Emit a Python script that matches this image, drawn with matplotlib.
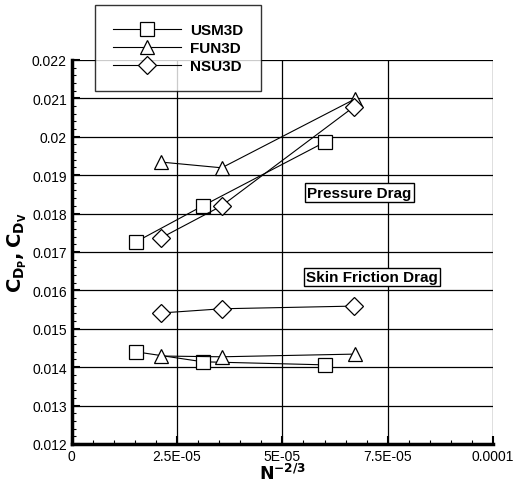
import numpy as np
import matplotlib.pyplot as plt
from matplotlib.ticker import MultipleLocator

plt.rcParams['font.family'] = ['Liberation Sans', 'DejaVu Sans']

# pressure drag
usm_x = [1.52e-5, 3.11e-5, 6.01e-5]
usm_p = [0.01726, 0.01820, 0.01986]
fun_x = [2.11e-5, 3.56e-5, 6.72e-5]
fun_p = [0.01934, 0.01919, 0.02098]
nsu_x = [2.11e-5, 3.56e-5, 6.70e-5]
nsu_p = [0.01736, 0.01820, 0.02078]

# skin friction drag
usm_v = [0.01440, 0.01414, 0.01406]
fun_v = [0.01429, 0.01427, 0.01434]
nsu_v = [0.01541, 0.01552, 0.01559]

xticks = [0, 2.5e-5, 5e-5, 7.5e-5, 1e-4]
xticklabels = ['0', '2.5E-05', '5E-05', '7.5E-05', '0.0001']
yticks = [0.012, 0.013, 0.014, 0.015, 0.016, 0.017, 0.018, 0.019, 0.02, 0.021, 0.022]

fig = plt.figure(figsize=(5.13, 4.85), dpi=100)
ax = fig.add_axes([0.140, 0.0825, 0.821, 0.792])

mk = dict(color='black', lw=0.8, markerfacecolor='white', markeredgecolor='black',
          markeredgewidth=0.9, markersize=10)
ax.plot(usm_x, usm_p, marker='s', label='USM3D', **mk)
ax.plot(fun_x, fun_p, marker='^', label='FUN3D', **mk)
ax.plot(nsu_x, nsu_p, marker='D', label='NSU3D', **dict(mk, markersize=9))
ax.plot(usm_x, usm_v, marker='s', **mk)
ax.plot(fun_x, fun_v, marker='^', **mk)
ax.plot(nsu_x, nsu_v, marker='D', **dict(mk, markersize=9))

ax.set_xlim(0, 1e-4)
ax.set_ylim(0.012, 0.022)
ax.set_xticks(xticks)
ax.set_xticklabels(xticklabels)
ax.set_yticks(yticks)
ax.set_yticklabels(['%g' % v for v in yticks])
ax.xaxis.set_minor_locator(MultipleLocator(5e-6))
ax.yaxis.set_minor_locator(MultipleLocator(0.0002))
ax.tick_params(which='both', direction='in', labelsize=10)
ax.tick_params(which='major', length=6, width=1.5)
ax.tick_params(which='minor', length=3, width=0.8)
ax.grid(True, which='major', color='black', lw=0.9)
for s in ['left', 'bottom']:
    ax.spines[s].set_linewidth(2.5)
for s in ['top', 'right']:
    ax.spines[s].set_visible(False)

ax.set_xlabel(r'$\mathbf{N^{-2/3}}$', fontsize=12.5, labelpad=-1)
ax.set_ylabel(r'$\mathbf{C_{D_P}, C_{D_V}}$', fontsize=14, labelpad=2)

box = dict(boxstyle='square,pad=0.15', facecolor='white', edgecolor='black', lw=1)
ax.text(6.83e-5, 0.01854, 'Pressure Drag', fontsize=11, fontweight='bold',
        ha='center', va='center', bbox=box)
ax.text(7.13e-5, 0.01635, 'Skin Friction Drag', fontsize=11, fontweight='bold',
        ha='center', va='center', bbox=box)

leg = ax.legend(loc='upper left', bbox_to_anchor=(95 / 513, 1 - 6 / 485),
                bbox_transform=fig.transFigure, borderaxespad=0,
                frameon=True, fancybox=False, edgecolor='black', handlelength=4.4,
                prop={'weight': 'bold', 'size': 11}, borderpad=1.2,
                labelspacing=0.25, handletextpad=0.6)
leg.get_frame().set_linewidth(1.0)

fig.savefig('out.png', dpi=100)
